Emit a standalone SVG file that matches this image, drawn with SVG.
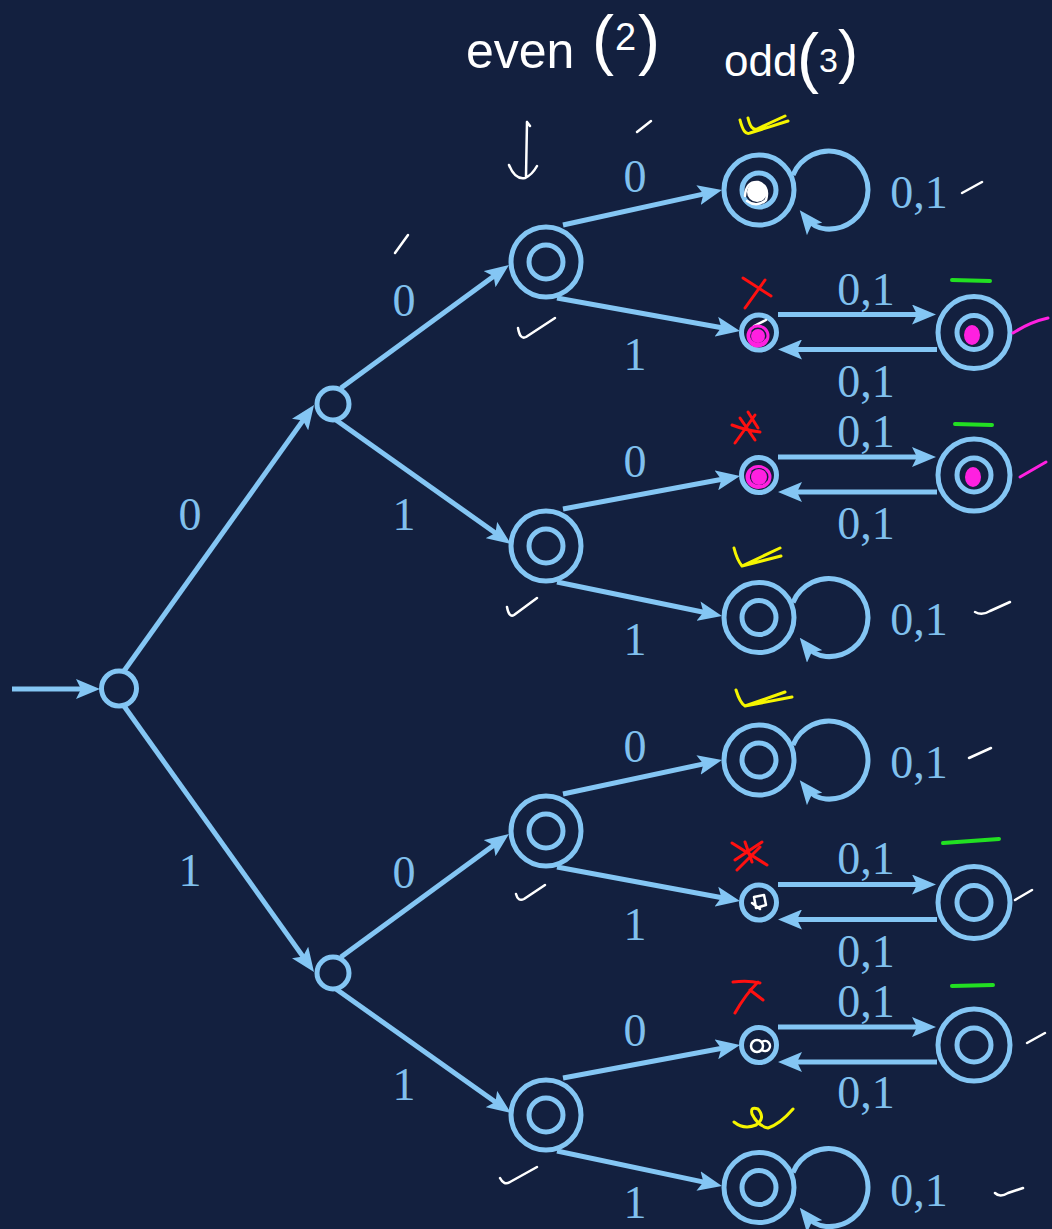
<svg xmlns="http://www.w3.org/2000/svg" width="1052" height="1229" viewBox="0 0 1052 1229">
<defs>
<style>
.st{fill:none;stroke:#84c6f4;stroke-width:5}
.ed{fill:none;stroke:#84c6f4;stroke-width:5;marker-end:url(#ah)}
.lb{font-family:"Liberation Serif","Times New Roman",serif;font-size:46px;fill:#80c0ee;text-anchor:middle}
.hw{font-family:"Liberation Sans",Arial,sans-serif;fill:#ffffff}
.wk{fill:none;stroke:#ffffff;stroke-width:2.5;stroke-linecap:round;stroke-linejoin:round}
.yk{fill:none;stroke:#f5f500;stroke-width:3;stroke-linecap:round;stroke-linejoin:round}
.rk{fill:none;stroke:#ff1010;stroke-width:3;stroke-linecap:round;stroke-linejoin:round}
.gk{fill:none;stroke:#22e022;stroke-width:4;stroke-linecap:round}
.mk{fill:none;stroke:#ff20e0;stroke-width:3;stroke-linecap:round;stroke-linejoin:round}
</style>
<marker id="ah" markerUnits="userSpaceOnUse" markerWidth="24" markerHeight="20" viewBox="0 0 24 20" refX="14" refY="10" orient="auto">
<path d="M0,0 L24,10 L0,20 L5,10 z" fill="#84c6f4"/>
</marker>
</defs>
<rect width="1052" height="1229" fill="#13203f"/>

<g id="connectors">
<path class="ed" d="M12 689 L90 689"/>
<path class="ed" d="M124 671 L308.2 413.1"/>
<path class="ed" d="M124 706 L308.2 963.9"/>
<path class="ed" d="M341 388 L500.9 270.9"/>
<path class="ed" d="M336 420 L502.8 538.2"/>
<path class="ed" d="M341 957 L500.9 839.9"/>
<path class="ed" d="M336 989 L502.8 1107.2"/>
<path class="ed" d="M563 225 L712.2 192.1"/>
<path class="ed" d="M557 298 L730.2 329.2"/>
<path class="ed" d="M563 509 L730.2 477.8"/>
<path class="ed" d="M557 582 L712.2 614"/>
<path class="ed" d="M563 794 L712.2 762.1"/>
<path class="ed" d="M557 867 L730.2 899.2"/>
<path class="ed" d="M563 1078 L730.2 1046.8"/>
<path class="ed" d="M557 1151 L712.2 1183.9"/>
<path class="ed" d="M778 314.5 L926 314.5"/>
<path class="ed" d="M937 349.5 L788 349.5"/>
<path class="ed" d="M778 457 L926 457"/>
<path class="ed" d="M937 492 L788 492"/>
<path class="ed" d="M778 884.5 L926 884.5"/>
<path class="ed" d="M937 919.5 L788 919.5"/>
<path class="ed" d="M778 1027 L926 1027"/>
<path class="ed" d="M937 1062 L788 1062"/>
<path class="ed" d="M793 175 A39 39 0 1 1 826 229 Q814 228 806 218"/>
<path class="ed" d="M793 602.5 A39 39 0 1 1 826 656.5 Q814 655.5 806 645.5"/>
<path class="ed" d="M793 745 A39 39 0 1 1 826 799 Q814 798 806 788"/>
<path class="ed" d="M793 1172.5 A39 39 0 1 1 826 1226.5 Q814 1225.5 806 1215.5"/>
<text class="lb" x="190" y="530">0</text>
<text class="lb" x="190" y="886">1</text>
<text class="lb" x="404" y="316">0</text>
<text class="lb" x="404" y="530">1</text>
<text class="lb" x="404" y="888">0</text>
<text class="lb" x="404" y="1100">1</text>
<text class="lb" x="635" y="192">0</text>
<text class="lb" x="635" y="370">1</text>
<text class="lb" x="635" y="477">0</text>
<text class="lb" x="635" y="655">1</text>
<text class="lb" x="635" y="762">0</text>
<text class="lb" x="635" y="940">1</text>
<text class="lb" x="635" y="1046">0</text>
<text class="lb" x="635" y="1218">1</text>
<text class="lb" x="866" y="305">0,1</text>
<text class="lb" x="866" y="397">0,1</text>
<text class="lb" x="866" y="447">0,1</text>
<text class="lb" x="866" y="539">0,1</text>
<text class="lb" x="866" y="874">0,1</text>
<text class="lb" x="866" y="967">0,1</text>
<text class="lb" x="866" y="1017">0,1</text>
<text class="lb" x="866" y="1108">0,1</text>
<text class="lb" x="919" y="208">0,1</text>
<text class="lb" x="919" y="635">0,1</text>
<text class="lb" x="919" y="778">0,1</text>
<text class="lb" x="919" y="1206">0,1</text>
</g>

<g id="q0"><circle class="st" cx="119" cy="688.5" r="17.5"/></g>
<g id="q1"><circle class="st" cx="333" cy="404" r="16"/></g>
<g id="q2"><circle class="st" cx="333" cy="973" r="16"/></g>
<g id="q00"><circle class="st" cx="546" cy="262" r="35"/><circle class="st" cx="546" cy="262" r="17"/></g>
<g id="q01"><circle class="st" cx="546" cy="546" r="35"/><circle class="st" cx="546" cy="546" r="17"/></g>
<g id="q10"><circle class="st" cx="546" cy="831" r="35"/><circle class="st" cx="546" cy="831" r="17"/></g>
<g id="q11"><circle class="st" cx="546" cy="1115" r="35"/><circle class="st" cx="546" cy="1115" r="17"/></g>
<g id="q000"><circle class="st" cx="759" cy="190" r="35"/><circle class="st" cx="759" cy="190" r="17"/></g>
<g id="q001"><circle class="st" cx="759" cy="332.5" r="17.5"/></g>
<g id="q001b"><circle class="st" cx="974" cy="332.5" r="36"/><circle class="st" cx="974" cy="332.5" r="17"/></g>
<g id="q010"><circle class="st" cx="759" cy="475" r="17.5"/></g>
<g id="q010b"><circle class="st" cx="974" cy="475" r="36"/><circle class="st" cx="974" cy="475" r="17"/></g>
<g id="q011"><circle class="st" cx="759" cy="617.5" r="35"/><circle class="st" cx="759" cy="617.5" r="17"/></g>
<g id="q100"><circle class="st" cx="759" cy="760" r="35"/><circle class="st" cx="759" cy="760" r="17"/></g>
<g id="q101"><circle class="st" cx="759" cy="902.5" r="17.5"/></g>
<g id="q101b"><circle class="st" cx="974" cy="902.5" r="36"/><circle class="st" cx="974" cy="902.5" r="17"/></g>
<g id="q110"><circle class="st" cx="759" cy="1045" r="17.5"/></g>
<g id="q110b"><circle class="st" cx="974" cy="1045" r="36"/><circle class="st" cx="974" cy="1045" r="17"/></g>
<g id="q111"><circle class="st" cx="759" cy="1187.5" r="35"/><circle class="st" cx="759" cy="1187.5" r="17"/></g>

<g id="annotations">
<text class="hw"><tspan x="466" y="68" font-size="50">even </tspan><tspan x="592" y="62" font-size="66">(</tspan><tspan x="615" y="50" font-size="38">2</tspan><tspan x="638" y="62" font-size="66">)</tspan></text>
<text class="hw"><tspan x="724" y="76" font-size="44">odd</tspan><tspan x="797" y="80" font-size="66">(</tspan><tspan x="819" y="72" font-size="34">3</tspan><tspan x="838" y="72" font-size="60">)</tspan></text>
<path class="wk" d="M527 122 L530 126 M527 122 L526 176 M509 165 Q515 180 525 178 Q532 175 537 166"/>
<path class="wk" d="M395 253 L408 235"/>
<path class="wk" d="M637 132 L651 121"/>
<path class="wk" d="M518 328 Q520 340 526 337 L555 318"/>
<path class="wk" d="M507 607 Q509 618 514 615 L537 598"/>
<path class="wk" d="M516 894 Q518 902 524 899 L545 885"/>
<path class="wk" d="M500 1178 Q504 1186 510 1182 L537 1167"/>
<path class="wk" d="M962 193 L982 182"/>
<path class="wk" d="M975 612 Q982 616 990 611 L1010 602"/>
<path class="wk" d="M969 758 L991 748"/>
<path class="wk" d="M995 1193 Q1000 1198 1008 1193 L1023 1188"/>
<path class="wk" d="M1015 900 L1032 890"/>
<path class="wk" d="M1027 1043 L1045 1033"/>
<path class="yk" d="M740 120 Q744 136 750 133 L788 121 M748 118 Q751 131 757 129 L785 116"/>
<path class="yk" d="M734 548 Q737 560 742 566 L781 556 M742 566 L780 548"/>
<path class="yk" d="M736 690 Q740 703 745 706 L792 697 M745 706 L785 692"/>
<path class="yk" d="M734 1122 Q744 1130 756 1125 Q766 1118 758 1109 Q750 1106 752 1114 Q758 1126 768 1128 Q780 1124 793 1109"/>
<path class="rk" d="M743 278 L771 296 M765 280 L745 308"/>
<path class="rk" d="M732 425 Q745 430 760 432 M755 415 L735 443 M740 418 L755 440 M748 412 L758 428"/>
<path class="rk" d="M732 843 L767 865 M760 847 L737 870 M745 842 L752 862 M735 860 L762 842"/>
<path class="rk" d="M733 982 Q748 980 760 983 M758 982 Q745 995 735 1013 M750 990 L763 1000"/>
<path class="gk" d="M952 280 L990 281"/>
<path class="gk" d="M955 424 L992 425"/>
<path class="gk" d="M943 843 L999 839"/>
<path class="gk" d="M952 986 L993 985"/>
<circle cx="757" cy="192" r="10" fill="#ffffff"/>
<path class="wk" d="M745 196 Q746 181 758 182 Q770 186 766 200 Q757 208 747 201"/>
<path class="wk" d="M754 897 L764 895 L766 905 L756 908 Z M752 903 L760 909"/>
<path class="wk" d="M757 1040 A6 6 0 1 0 757 1052 A6 6 0 1 0 757 1040 M762 1042 A5 5 0 1 1 762 1050"/>
<path class="wk" d="M754 326 L766 320"/>
<circle cx="758" cy="336" r="7" fill="#ff20e0"/>
<path class="mk" d="M748 336 A10 10 0 1 1 768 336 A10 10 0 1 1 748 336 M750 332 A9 8 0 1 0 766 340"/>
<ellipse cx="972" cy="335" rx="8" ry="10" fill="#ff20e0"/>
<path class="mk" d="M1013 333 Q1030 322 1048 318" stroke-width="6"/>
<circle cx="759" cy="477" r="8" fill="#ff20e0"/>
<path class="mk" d="M747 477 A11 10 0 1 1 770 477 A11 10 0 1 1 747 477 M750 472 A10 9 0 1 0 768 482"/>
<ellipse cx="973" cy="477" rx="8" ry="10" fill="#ff20e0"/>
<path class="mk" d="M1020 477 L1046 462" stroke-width="7"/>
</g>
</svg>
